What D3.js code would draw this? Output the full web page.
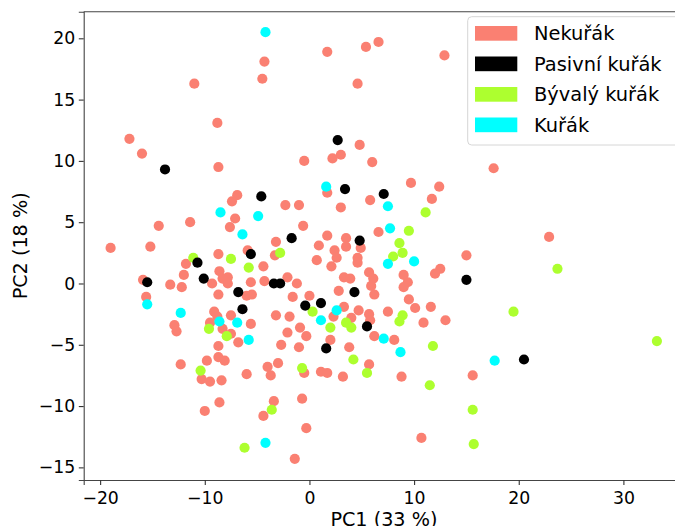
<!DOCTYPE html>
<html>
<head>
<meta charset="utf-8">
<script src="https://cdn.jsdelivr.net/npm/d3@7"></script>
<style>
  body { margin: 0; background: #fff; overflow: hidden; }
  text { font-family: "DejaVu Sans", sans-serif; }
</style>
</head>
<body>
<div id="chart"></div>
<script>
// PCA scores: [PC1, PC2]
const categories = ["Nekuřák", "Pasivní kuřák", "Bývalý kuřák", "Kuřák"];
const colors = ["#fa8072", "#000000", "#adff2f", "#00ffff"];

const nekurak = [
  [1.7, 18.9], [-4.3, 18.1], [-4.5, 16.7], [-11.0, 16.3], [-8.8, 13.1], [-17.2, 11.8],
  [-16.0, 10.6], [-8.7, 9.5], [-0.5, 10.0], [2.2, 10.2], [3.0, 10.5], [1.7, 7.4],
  [-6.9, 7.2], [-7.4, 6.7], [-2.3, 6.4], [-1.0, 6.4], [-7.1, 5.3], [-7.6, 4.6],
  [-11.4, 5.0], [-14.4, 4.7], [-0.6, 4.7], [-3.2, 3.4], [3.0, 6.2], [1.7, 3.9],
  [0.9, 3.1], [-19.0, 2.9], [-15.2, 3.0], [-5.9, 2.7], [-3.3, 2.3], [-8.7, 2.4],
  [0.7, 1.9], [2.4, 2.7], [2.6, 2.1], [-11.8, 1.6], [-4.4, 1.4], [-8.6, 1.0],
  [5.4, 19.3], [6.6, 19.7], [12.9, 18.6], [4.6, 16.3], [4.8, 11.3], [6.0, 9.9],
  [17.6, 9.4], [9.7, 8.2], [12.4, 7.9], [11.7, 6.9], [5.8, 6.8], [6.6, 4.2],
  [3.5, 3.7], [3.5, 3.0], [4.9, 2.9], [4.6, 2.1], [4.6, 1.7], [2.1, 1.4],
  [15.0, 2.3], [12.5, 1.2], [12.0, 0.8], [9.0, 0.7], [5.7, 0.9], [6.1, 0.4],
  [3.3, 0.5], [3.9, 0.4], [-2.1, 0.5], [-1.2, 0.0], [9.4, 0.1], [9.0, -0.3],
  [5.9, -0.2], [6.2, -0.9], [2.8, -0.6], [0.0, -1.0], [-1.6, -1.1], [9.5, -1.3],
  [10.1, -2.0], [11.6, -1.9], [3.3, -1.9], [4.7, -2.2], [7.5, -2.3], [-3.2, -2.6],
  [-1.9, -2.7], [2.3, -2.7], [4.0, -2.8], [5.7, -2.5], [5.8, -3.0], [10.9, -3.2],
  [13.0, -3.0], [-0.9, -3.6], [-2.1, -4.0], [-0.3, -4.3], [2.0, -4.6], [6.2, -4.3],
  [8.1, -4.6], [3.8, -5.2], [-2.7, -5.0], [-1.0, -5.2], [5.7, -6.6], [1.1, -7.2],
  [1.7, -7.3], [3.2, -7.6], [8.8, -7.6], [-0.5, -7.3], [-3.0, -6.5], [-3.7, -7.5],
  [-0.7, -9.4], [-3.4, -9.6], [-0.3, -11.8], [10.7, -12.6], [-1.4, -14.3], [15.6, -7.5],
  [22.9, 3.8], [-12.0, 0.7], [-8.3, 0.4], [-7.8, 0.5], [-7.8, 0.0], [-9.3, 0.0],
  [-5.6, 0.1], [-4.3, 0.2], [-15.9, 0.3], [-13.3, -0.1], [-12.2, -0.3], [-15.6, -1.1],
  [-8.7, -0.9], [-6.0, -1.0], [-5.5, -0.9], [-9.1, -2.3], [-7.5, -2.6], [-8.8, -2.7],
  [-9.5, -3.2], [-8.3, -3.7], [-7.5, -4.1], [-6.8, -4.8], [-5.6, -3.3], [-8.7, -5.1],
  [-12.9, -3.4], [-12.7, -3.9], [-12.3, -6.6], [-9.8, -6.3], [-8.7, -6.0], [-8.1, -6.3],
  [-10.3, -7.8], [-9.5, -8.0], [-8.4, -7.9], [-6.0, -7.4], [-4.0, -6.8], [-8.6, -9.7],
  [-10.0, -10.4], [-4.4, -10.8]
];

const pasivni = [
  [2.7, 11.7], [-13.8, 9.3], [-4.6, 7.1], [-1.7, 3.7], [-5.6, 2.4], [-10.7, 1.7],
  [3.4, 7.7], [7.1, 7.3], [4.8, 3.5], [15.0, 0.3], [-3.4, 0.0], [-2.8, 0.0],
  [4.3, -0.7], [-0.4, -1.8], [1.1, -1.6], [-10.1, 0.4], [-15.5, 0.1], [-6.8, -0.7],
  [-6.4, -2.1], [1.6, -5.3], [5.5, -3.5], [20.5, -6.2]
];

const byvaly = [
  [-2.8, 2.5], [-11.1, 2.1], [-7.5, 2.0], [-5.8, 1.3], [11.1, 5.8], [9.5, 4.3],
  [8.6, 3.3], [8.9, 2.5], [8.0, 2.2], [23.7, 1.2], [0.3, -2.3], [8.9, -2.6],
  [3.5, -3.2], [4.0, -3.6], [8.6, -3.1], [2.0, -3.6], [11.8, -5.1], [4.2, -6.2],
  [5.5, -7.3], [11.5, -8.3], [-0.7, -6.9], [-3.6, -10.3], [19.5, -2.3], [33.2, -4.7],
  [15.6, -10.3], [15.7, -13.1], [-9.6, -3.7], [-7.9, -4.3], [-10.4, -7.1], [-6.2, -13.4]
];

const kurak = [
  [-4.2, 20.5], [1.6, 7.9], [-8.5, 5.8], [-4.9, 5.5], [-6.4, 4.0], [7.5, 6.3],
  [7.7, 4.5], [10.0, 1.8], [7.5, 1.6], [2.6, -2.2], [1.1, -3.0], [-15.5, -1.7],
  [-12.3, -2.4], [-8.6, -3.1], [-6.9, -3.2], [-5.8, -4.6], [7.1, -4.5], [8.7, -5.6],
  [17.7, -6.3], [-4.2, -13.0]
];

const groups = [nekurak, pasivni, byvaly, kurak];
const drawOrder = [0, 2, 1, 3];

const xTicks = [-20, -10, 0, 10, 20, 30];
const yTicks = [-15, -10, -5, 0, 5, 10, 15, 20];

var W = 675, H = 526;
var margin = { top: 11.7, left: 83.7 },
  plotW = 600.4,
  plotH = 468.3;

var x = d3.scaleLinear().domain([-21.57, 35.8]).range([0, plotW]);
var y = d3.scaleLinear().domain([-16.03, 22.17]).range([plotH, 0]);

var svg = d3
  .select("#chart")
  .append("svg")
  .attr("width", W)
  .attr("height", H);

var g = svg
  .append("g")
  .attr("transform", "translate(" + margin.left + "," + margin.top + ")");

// points
drawOrder.forEach(function (gi) {
  g.append("g")
    .selectAll("circle")
    .data(groups[gi])
    .enter()
    .append("circle")
    .attr("cx", function (d) { return x(d[0]); })
    .attr("cy", function (d) { return y(d[1]); })
    .attr("r", 5.1)
    .style("fill", colors[gi]);
});

// axes
var xAxis = g
  .append("g")
  .attr("transform", "translate(0," + plotH + ")")
  .call(d3.axisBottom(x).tickValues(xTicks).tickSizeOuter(0).tickSize(4.9).tickPadding(6.5));
var yAxis = g
  .append("g")
  .call(d3.axisLeft(y).tickValues(yTicks).tickSizeOuter(0).tickSize(4.9).tickPadding(3.6));

[xAxis, yAxis].forEach(function (a) {
  a.selectAll("text").style("font-size", "17.3px").style("fill", "#000");
  a.selectAll("line").style("stroke", "#333").style("stroke-width", 1.1);
  a.select(".domain").style("stroke", "#444").style("stroke-width", 1.1);
});

// top and right spines
g.append("line")
  .attr("x1", 0).attr("x2", plotW)
  .attr("y1", 0).attr("y2", 0)
  .style("stroke", "#444").style("stroke-width", 1.1);
g.append("line")
  .attr("x1", plotW).attr("x2", plotW)
  .attr("y1", 0).attr("y2", plotH)
  .style("stroke", "#444").style("stroke-width", 1.1);

// axis labels
svg.append("text")
  .attr("x", margin.left + plotW / 2)
  .attr("y", 525.5)
  .attr("text-anchor", "middle")
  .style("font-size", "19.2px")
  .text("PC1 (33 %)");

svg.append("text")
  .attr("transform", "translate(27," + (margin.top + plotH / 2) + ") rotate(-90)")
  .attr("text-anchor", "middle")
  .style("font-size", "19.2px")
  .text("PC2 (18 %)");

// legend
var legend = svg.append("g").attr("transform", "translate(467.7,16.7)");
legend.append("rect")
  .attr("width", 230)
  .attr("height", 128.3)
  .attr("rx", 4)
  .style("fill", "#fff")
  .style("fill-opacity", 0.8)
  .style("stroke", "#d6d6d6")
  .style("stroke-width", 1);

categories.forEach(function (c, i) {
  var cy = 16.6 + i * 30.5;
  legend.append("rect")
    .attr("x", 7.3)
    .attr("y", cy - 7.3)
    .attr("width", 42.3)
    .attr("height", 14.7)
    .style("fill", colors[i]);
  legend.append("text")
    .attr("x", 66.3)
    .attr("y", cy + 6.9)
    .style("font-size", "19.4px")
    .text(c);
});
</script>
</body>
</html>
